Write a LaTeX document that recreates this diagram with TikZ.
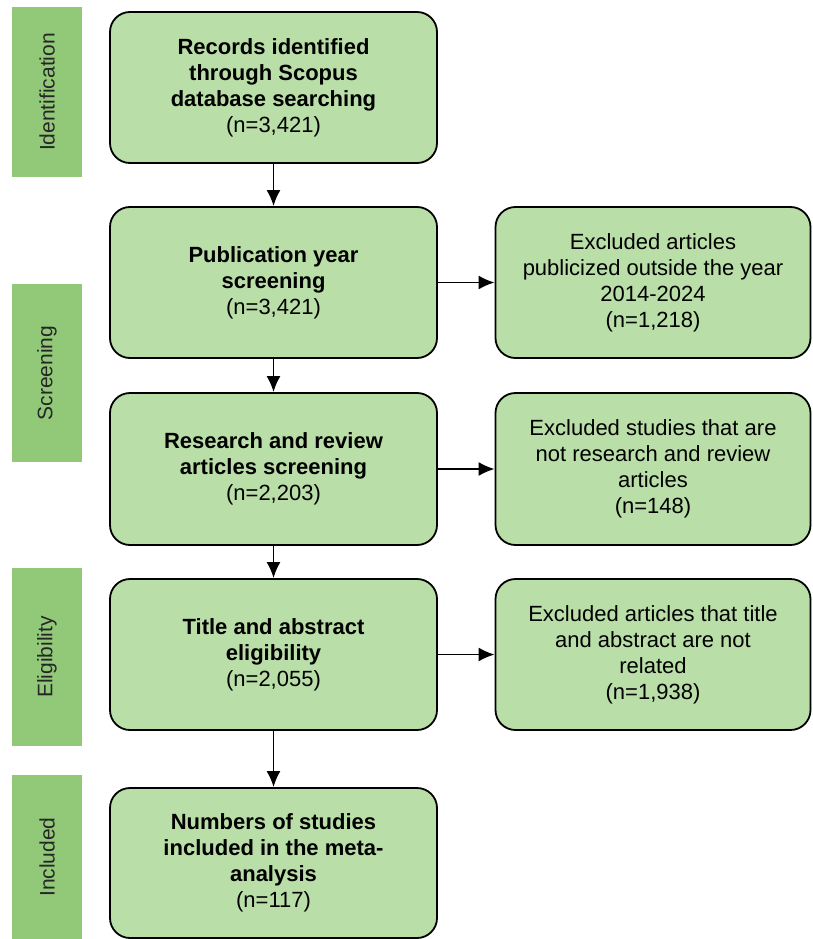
\documentclass[tikz,border=0pt]{standalone}
\usepackage{fontspec}
\setmainfont{Liberation Sans}
\usepackage{xcolor}
\usepackage{tikz}
\usetikzlibrary{
  positioning,
  arrows.meta
}
\definecolor{stagegreen}{RGB}{146,201,121}
\definecolor{boxgreen}{RGB}{185,222,168}
\tikzset{
  >=Latex,
  flowarrow/.style={-{Latex[length=16pt,width=14pt]},line width=1.8pt},
  stage/.style={rectangle,fill=stagegreen,rotate=90,minimum height=70pt,inner sep=0pt,text=black!85,font=\fontsize{21}{25}\selectfont},
  mainbox/.style={rectangle,draw,line width=1.8pt,rounded corners=20pt,fill=boxgreen,minimum width=327pt,align=center,font=\fontsize{22}{26}\selectfont\bfseries},
  exclbox/.style={rectangle,draw,line width=1.8pt,rounded corners=20pt,fill=boxgreen,minimum width=315pt,minimum height=151pt,align=center,font=\fontsize{22}{26}\selectfont}
}

\begin{document}
\begin{tikzpicture}[x=1pt,y=-1pt]
    \useasboundingbox (0,0) rectangle (812,939);
    % stages on the left
    \foreach \y/\h/\name/\id in {92/170/Identification/i,373/178/Screening/s,657/178/Eligibility/e,857/164/Included/n}
        \node[stage,minimum width=\h pt] (st\id) at (47,\y) {\name};

    % main column
    \foreach \y/\h/\id/\txt in {87.5/151/rec/{Records identified\\through Scopus\\database searching\\{\mdseries(n=3,421)}},
                               282.5/151/pub/{Publication year\\screening\\{\mdseries(n=3,421)}},
                               469/152/res/{Research and review\\articles screening\\{\mdseries(n=2,203)}},
                               654.5/151/tit/{Title and abstract\\eligibility\\{\mdseries(n=2,055)}},
                               863/150/inc/{Numbers of studies\\included in the meta-\\analysis\\{\mdseries(n=117)}}}
        \node[mainbox,minimum height=\h pt] (\id) at (273.5,\y) {\txt};

    % excluded records
    \node[exclbox] (pubx) at (653,282.5) {Excluded articles\\publicized outside the year\\2014-2024\\(n=1,218)};
    \node[exclbox,minimum height=152pt] (resx) at (653,469) {Excluded studies that are\\not research and review\\articles\\(n=148)};
    \node[exclbox] (titx) at (653,654.5) {Excluded articles that title\\and abstract are not\\related\\(n=1,938)};

    \draw[flowarrow] (rec) -- (pub);
    \draw[flowarrow] (pub) -- (res);
    \draw[flowarrow] (res) -- (tit);
    \draw[flowarrow] (tit) -- (inc);
    \draw[flowarrow] (pub) -- (pubx);
    \draw[flowarrow] (res) -- (resx);
    \draw[flowarrow] (tit) -- (titx);
\end{tikzpicture}
\end{document}
